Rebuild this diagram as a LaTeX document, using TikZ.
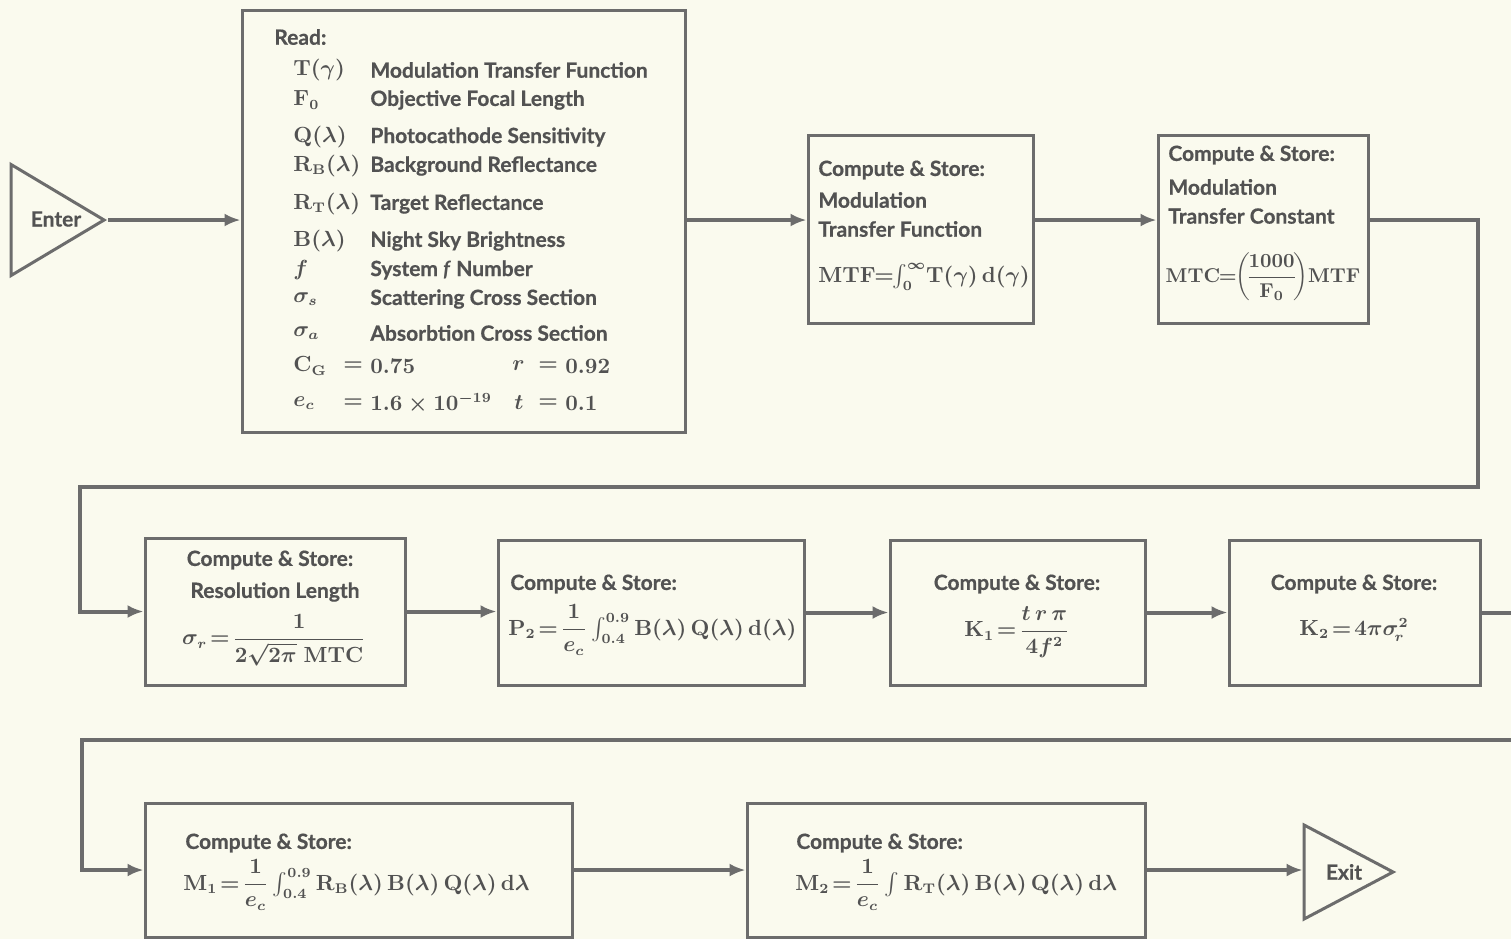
\documentclass[tikz,border=0pt]{standalone}
\usepackage{amsmath}
\usepackage[no-math]{fontspec}
\setmainfont{Lato}[BoldFeatures={FakeBold=0.6}]
\usetikzlibrary{arrows.meta,fit,shapes.geometric}
\definecolor{bg}{RGB}{250,250,238}
\definecolor{ln}{RGB}{108,108,108}
\definecolor{tx}{RGB}{82,82,82}
\newcommand{\eqq}{\mathrel{\!=\!}}
\newcommand{\eqt}{\mathrel{\!\!=\!\!}}
\begin{document}
\begin{tikzpicture}[x=0.5pt,y=-0.5pt,
  box/.style={draw=ln, line width=1.5pt, inner sep=0pt},
  lbl/.style={text=tx, font=\fontsize{10.5}{12}\selectfont\bfseries\boldmath, inner sep=0pt},
  arr/.style={draw=ln, line width=2pt, -{Latex[length=8pt,width=6.5pt]}},
  tri/.style={draw=ln, line width=1.5pt, isosceles triangle, isosceles triangle stretches, inner sep=0pt}]
\path[fill=bg] (0,0) rectangle (1511,939);
\useasboundingbox (0,0) rectangle (1511,939);
\clip (0,0) rectangle (1511,939);

% boxes
\node[box, fit={(242,10) (685,432)}] (read) {};
\node[box, fit={(808,135) (1033,323)}] (mtf) {};
\node[box, fit={(1158,135) (1368,323)}] (mtc) {};
\node[box, fit={(145,538) (405,685)}] (sig) {};
\node[box, fit={(498,540) (804,685)}] (p2) {};
\node[box, fit={(890,540) (1145,685)}] (k1) {};
\node[box, fit={(1229,540) (1480,685)}] (k2) {};
\node[box, fit={(145,803) (572,937)}] (m1) {};
\node[box, fit={(747,803) (1145,937)}] (m2) {};
\node[tri, anchor=apex, minimum height=46.5pt, minimum width=55.5pt] (enter) at (108,220) {};
\node[lbl] (entertxt) at (56,219) {Enter};
\node[tri, anchor=apex, minimum height=44.5pt, minimum width=47pt] (exit) at (1397,872) {};
\node[lbl] (exittxt) at (1344,872) {Exit};

% Read box contents
\node[lbl, anchor=west] (rd) at (274,37) {Read:};
\node[lbl, anchor=west] (s1) at (293,70) {$\mathrm{T}(\gamma)$};
\node[lbl, anchor=west] (d1) at (370,70) {Modulation Transfer Function};
\node[lbl, anchor=west] (s2) at (293,100) {$\mathrm{F}_0$};
\node[lbl, anchor=west] (d2) at (370,100) {Objective Focal Length};
\node[lbl, anchor=west] (s3) at (293,137) {$\mathrm{Q}(\lambda)$};
\node[lbl, anchor=west] (d3) at (370,137) {Photocathode Sensitivity};
\node[lbl, anchor=west] (s4) at (293,166) {$\mathrm{R}_\mathrm{B}(\lambda)$};
\node[lbl, anchor=west] (d4) at (370,166) {Background Reflectance};
\node[lbl, anchor=west] (s5) at (293,204) {$\mathrm{R}_\mathrm{T}(\lambda)$};
\node[lbl, anchor=west] (d5) at (370,204) {Target Reflectance};
\node[lbl, anchor=west] (s6) at (293,241) {$\mathrm{B}(\lambda)$};
\node[lbl, anchor=west] (d6) at (370,241) {Night Sky Brightness};
\node[lbl, anchor=west] (s7) at (293,270) {$f$};
\node[lbl, anchor=west] (d7) at (370,270) {System \textit{f} Number};
\node[lbl, anchor=west] (s8) at (293,299) {$\sigma_s$};
\node[lbl, anchor=west] (d8) at (370,299) {Scattering Cross Section};
\node[lbl, anchor=west] (s9) at (293,333) {$\sigma_a$};
\node[lbl, anchor=west] (d9) at (370,333) {Absorbtion Cross Section};
\node[lbl, anchor=west] (s10) at (293,366) {$\mathrm{C}_\mathrm{G}$};
\node[lbl, anchor=west] (q10) at (343,366) {$=$};
\node[lbl, anchor=west] (v10) at (370,366) {$0.75$};
\node[lbl, anchor=west] (r10) at (512,366) {$r$};
\node[lbl, anchor=west] (qr10) at (538,366) {$=$};
\node[lbl, anchor=west] (vr10) at (565,366) {$0.92$};
\node[lbl, anchor=west] (s11) at (293,403) {$e_c$};
\node[lbl, anchor=west] (q11) at (343,403) {$=$};
\node[lbl, anchor=west] (v11) at (370,403) {$1.6\times10^{-19}$};
\node[lbl, anchor=west] (r11) at (514,403) {$t$};
\node[lbl, anchor=west] (qr11) at (538,403) {$=$};
\node[lbl, anchor=west] (vr11) at (565,403) {$0.1$};

% MTF box
\node[lbl, anchor=west] (t1) at (818,170) {Compute \& Store:};
\node[lbl, anchor=west] (t2) at (818,200) {Modulation};
\node[lbl, anchor=west] (t3) at (818,229) {Transfer Function};
\node[lbl, anchor=west] (f1) at (818,277) {$\mathrm{MTF}\eqt\int_0^\infty\!\mathrm{T}(\gamma)\,\mathrm{d}(\gamma)$};

% MTC box
\node[lbl, anchor=west] (u1) at (1168,155) {Compute \& Store:};
\node[lbl, anchor=west] (u2) at (1168,187) {Modulation};
\node[lbl, anchor=west] (u3) at (1168,216) {Transfer Constant};
\node[lbl, font=\fontsize{9.6}{11}\selectfont\bfseries\boldmath] (f2) at (1263,277) {$\mathrm{MTC}\eqt\left(\!\dfrac{1000}{\mathrm{F}_0}\!\right)\!\mathrm{MTF}$};

% sigma box
\node[lbl] (v1) at (270,560) {Compute \& Store:};
\node[lbl] (v2) at (275,592) {Resolution Length};
\node[lbl] (f3) at (274,640) {$\sigma_r\eqq\dfrac{1}{2\sqrt{2\pi}\;\mathrm{MTC}}$};

% P2 box
\node[lbl, anchor=west] (w1) at (510,584) {Compute \& Store:};
\node[lbl, anchor=west] (f4) at (508,630) {$\mathrm{P}_2\eqq\dfrac{1}{e_c}\int_{0.4}^{0.9}\mathrm{B}(\lambda)\,\mathrm{Q}(\lambda)\,\mathrm{d}(\lambda)$};

% K1 box
\node[lbl] (x1) at (1017,584) {Compute \& Store:};
\node[lbl] (f5) at (1017,632) {$\mathrm{K}_1\eqq\dfrac{t\,r\,\pi}{4f^2}$};

% K2 box
\node[lbl] (y1) at (1354,584) {Compute \& Store:};
\node[lbl] (f6) at (1354,630) {$\mathrm{K}_2\eqq4\pi\sigma_{\!r}^{2}$};

% M1 box
\node[lbl, anchor=west] (z1) at (185,843) {Compute \& Store:};
\node[lbl, anchor=west] (f7) at (183,885) {$\mathrm{M}_1\eqq\dfrac{1}{e_c}\int_{0.4}^{0.9}\mathrm{R}_\mathrm{B}(\lambda)\,\mathrm{B}(\lambda)\,\mathrm{Q}(\lambda)\,\mathrm{d}\lambda$};

% M2 box
\node[lbl, anchor=west] (z2) at (796,843) {Compute \& Store:};
\node[lbl, anchor=west] (f8) at (795,885) {$\mathrm{M}_2\eqq\dfrac{1}{e_c}\int\mathrm{R}_\mathrm{T}(\lambda)\,\mathrm{B}(\lambda)\,\mathrm{Q}(\lambda)\,\mathrm{d}\lambda$};

% connectors
\coordinate (row1) at (0,220);
\coordinate (c1) at (1478,487);
\coordinate (c2) at (80,487);
\coordinate (c3) at (1520,740);
\coordinate (c4) at (82,740);
\draw[arr] (enter.apex) -- (enter.apex -| read.west);
\draw[arr] (read.east |- row1) -- (mtf.west |- row1);
\draw[arr] (mtf.east |- row1) -- (mtc.west |- row1);
\draw[arr] (mtc.east |- row1) -| (c1) -- (c2) |- (sig.west);
\draw[arr] (sig.east) -- (sig.east -| p2.west);
\draw[arr] (p2.east) -- (p2.east -| k1.west);
\draw[arr] (k1.east) -- (k1.east -| k2.west);
\draw[arr] (k2.east) -| (c3) -- (c4) |- (m1.west);
\draw[arr] (m1.east) -- (m1.east -| m2.west);
\draw[arr] (m2.east) -- (m2.east -| exit.west);
\end{tikzpicture}
\end{document}
